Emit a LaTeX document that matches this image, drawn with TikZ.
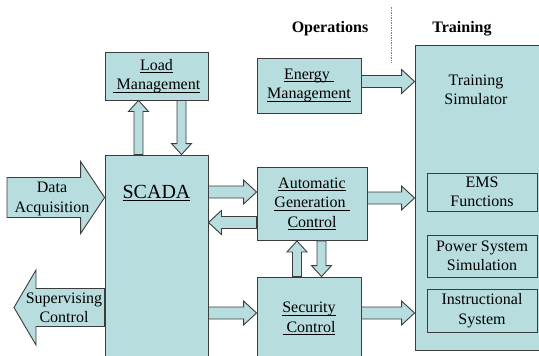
\documentclass[tikz,border=0pt]{standalone}
\usepackage{fontspec}
\setmainfont{Liberation Serif}
\usetikzlibrary{calc}
\definecolor{boxfill}{RGB}{184,221,222}
\definecolor{boxline}{RGB}{60,60,60}
\newsavebox\ulnbox
\newcommand\uln[1]{\sbox\ulnbox{#1}\rlap{\rule[-3pt]{\wd\ulnbox}{0.8pt}}\usebox\ulnbox}
\begin{document}
\begin{tikzpicture}[x=1pt, y=-1pt, font=\fontsize{16}{19.5}\selectfont,
  block/.style={draw=boxline, fill=boxfill, line width=0.9pt, align=center, inner sep=0pt},
  txt/.style={align=center, inner sep=0pt},
  fat/.style n args={3}{draw=boxline, fill=boxfill, line width=0.9pt, to path={
    ($(\tikztostart)!#1!90:(\tikztotarget)$)
    -- ($(\tikztotarget)!#3!(\tikztostart)!#1!90:(\tikztotarget)$)
    -- ($(\tikztotarget)!#3!(\tikztostart)!#2!90:(\tikztotarget)$)
    -- (\tikztotarget)
    -- ($(\tikztotarget)!#3!(\tikztostart)!#2!-90:(\tikztotarget)$)
    -- ($(\tikztotarget)!#3!(\tikztostart)!#1!-90:(\tikztotarget)$)
    -- ($(\tikztostart)!#1!-90:(\tikztotarget)$)
    -- cycle}},
  hfat/.style={fat={6pt}{12pt}{13pt}},
  vfat/.style={fat={4.5pt}{10pt}{11pt}}]
  \useasboundingbox (0,0) rectangle (539,356);
  \clip (0,0) rectangle (539,356);

  \node[txt, font=\fontsize{16}{19.5}\selectfont\bfseries] (ops) at (330,29) {Operations};
  \node[txt, font=\fontsize{16}{19.5}\selectfont\bfseries] (trn) at (462,29) {Training};
  \coordinate (sepa) at (391,7);
  \coordinate (sepb) at (391,63);
  \draw[gray, line width=0.6pt, dash pattern=on 1.5pt off 1pt] (sepa) -- (sepb);

  \node[block, minimum width=103pt, minimum height=48pt] (load) at (156.5,76)
    {\uln{Load}\\\uln{~Management}};
  \node[block, minimum width=103pt, minimum height=205pt] (scada) at (156.5,257.5) {};
  \node[txt, font=\fontsize{20}{24}\selectfont] (scadalbl) at (156.5,193) {\uln{SCADA}};
  \node[block, minimum width=104pt, minimum height=55pt] (energy) at (309,85.5)
    {\uln{Energy~}\\\uln{Management}};
  \node[block, minimum width=110pt, minimum height=73pt] (agc) at (312,204)
    {\uln{Automatic}\\\uln{Generation~}\\\uln{Control}};
  \node[block, minimum width=104pt, minimum height=83pt] (security) at (309,318.5)
    {\uln{Security}\\\uln{~Control}};
  \node[block, minimum width=130pt, minimum height=305pt] (trainer) at (480,197.5) {};
  \node[txt] (trainerlbl) at (476,90) {Training\\Simulator};
  \node[block, minimum width=110pt, minimum height=38pt] (ems) at (482,192) {EMS\\Functions};
  \node[block, minimum width=110pt, minimum height=42pt] (pss) at (482,256) {Power System\\Simulation};
  \node[block, minimum width=110pt, minimum height=43pt] (instr) at (482,310.5) {Instructional\\System};

  \draw[vfat] ([xshift=-18pt]scada.north) to ([xshift=-18pt]load.south);
  \draw[vfat] ([xshift=25pt]load.south) to ([xshift=25pt]scada.north);
  \draw[vfat] ([xshift=-12pt]security.north) to ([xshift=-15pt]agc.south);
  \draw[vfat] ([xshift=9.5pt]agc.south) to ([xshift=12.5pt]security.north);

  \draw[hfat] ([yshift=65.5pt]scada.east) to ([yshift=12pt]agc.west);
  \draw[hfat] ([yshift=-18.5pt]agc.west) to ([yshift=35pt]scada.east);
  \draw[hfat] ([yshift=-55.5pt]scada.east) to ([yshift=5.5pt]security.west);
  \draw[hfat] ([yshift=4pt]energy.east) to ([yshift=116pt]trainer.west);
  \draw[hfat] ([yshift=6pt]agc.east) to ([yshift=-0.5pt]trainer.west);
  \draw[hfat] ([yshift=5.5pt]security.east) to ([yshift=-115.5pt]trainer.west);

  \coordinate (datain) at (7,197.5);
  \coordinate (supout) at (14,307.5);
  \draw[fat={20pt}{36pt}{24pt}] (datain) to ([yshift=60pt]scada.west);
  \draw[fat={19pt}{37.5pt}{22pt}] ([yshift=-50pt]scada.west) to (supout);
  \node[txt] (daq) at (52,199) {Data\\Acquisition};
  \node[txt] (sup) at (64,308) {Supervising\\Control};
\end{tikzpicture}
\end{document}
